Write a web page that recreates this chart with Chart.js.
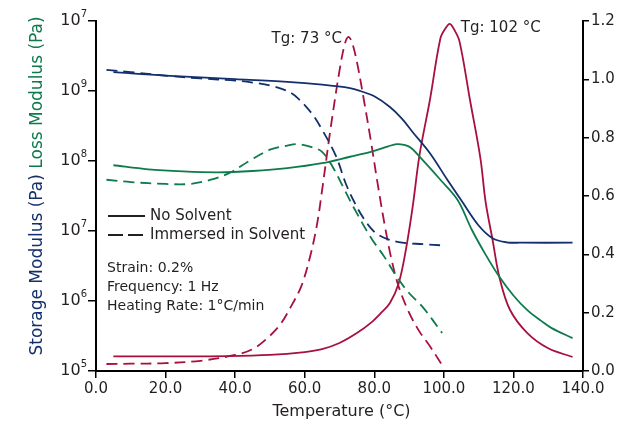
<!DOCTYPE html>
<html>
<head>
<meta charset="utf-8">
<script src="https://cdn.jsdelivr.net/npm/chart.js@4.4.1/dist/chart.umd.min.js"></script>
<style>
  html, body { margin: 0; padding: 0; background: #fff; }
  #wrap { width: 631px; height: 427px; }
</style>
</head>
<body>
<div id="wrap"><canvas id="grafico" width="631" height="427"></canvas></div>
<script>
// Temperatura (°C) e valores
const storageSolidT = [5, 20, 40, 55, 65, 73, 76, 80, 84.5, 88, 91, 96, 101, 105, 110, 114, 118, 122, 137];
const storageSolid = [1.86e9, 1.66e9, 1.48e9, 1.35e9, 1.23e9, 1.10e9, 1.0e9, 8.4e8, 5.9e8, 4.0e8, 2.6e8, 1.29e8, 5.4e7, 2.75e7, 1.2e7, 7.9e6, 6.9e6, 6.8e6, 6.8e6];

const storageDashT = [3, 10, 20, 30, 40, 45, 50, 55, 58, 62, 65, 69, 72, 75, 77, 79, 81, 84, 88, 94, 100];
const storageDash = [2.0e9, 1.86e9, 1.66e9, 1.51e9, 1.41e9, 1.32e9, 1.2e9, 1.0e9, 7.9e8, 4.8e8, 2.8e8, 1.17e8, 4.5e7, 2.2e7, 1.5e7, 1.1e7, 8.9e6, 7.6e6, 6.8e6, 6.5e6, 6.2e6];

const lossSolidT = [5, 15, 25, 35, 45, 55, 65, 73, 79, 84, 86.5, 88.5, 90.5, 94, 99, 104, 108, 112, 116, 120, 124, 128, 131, 137];
const lossSolid = [8.7e7, 7.6e7, 7.1e7, 6.9e7, 7.2e7, 7.9e7, 9.3e7, 1.15e8, 1.35e8, 1.62e8, 1.74e8, 1.7e8, 1.55e8, 1.02e8, 5.4e7, 2.75e7, 1.05e7, 4.6e6, 2.2e6, 1.2e6, 7.4e5, 5.2e5, 4.1e5, 2.95e5];

const lossDashT = [3, 10, 20, 27, 33, 38.5, 44, 50, 55, 58, 62, 65, 68, 71, 74, 79, 83, 86.5, 90, 94, 99.5];
const lossDash = [5.4e7, 5.0e7, 4.7e7, 4.7e7, 5.4e7, 6.8e7, 1.0e8, 1.45e8, 1.66e8, 1.74e8, 1.58e8, 1.35e8, 8.3e7, 4.3e7, 2.2e7, 8.1e6, 4.2e6, 2.2e6, 1.3e6, 8.1e5, 3.5e5];

const tanSolidT = [5, 20, 38, 50, 60, 65, 70, 75, 79, 82, 84.5, 87, 89, 91, 93, 96, 99, 100.5, 101.7, 103, 104.5, 107.5, 110.5, 112, 114, 116, 119, 124, 130, 137];
const tanSolid = [0.05, 0.05, 0.051, 0.055, 0.065, 0.075, 0.096, 0.13, 0.165, 0.2, 0.233, 0.3, 0.41, 0.56, 0.74, 0.93, 1.14, 1.175, 1.19, 1.17, 1.13, 0.93, 0.73, 0.58, 0.45, 0.32, 0.21, 0.13, 0.078, 0.048];

const tanDashT = [3, 10, 20, 30, 40, 45, 49, 53, 56, 59, 61.5, 63.5, 65, 67.3, 70, 71.5, 72.5, 73.5, 75, 77, 79, 81, 83, 85, 87, 90, 93, 96, 99.5];
const tanDash = [0.024, 0.025, 0.027, 0.035, 0.055, 0.075, 0.11, 0.16, 0.22, 0.29, 0.39, 0.5, 0.62, 0.82, 1.03, 1.12, 1.145, 1.13, 1.06, 0.93, 0.79, 0.64, 0.5, 0.38, 0.29, 0.2, 0.135, 0.085, 0.02];

// Rótulos dos eixos
const leftTickValues = [1e5, 1e6, 1e7, 1e8, 1e9, 1e10];
const leftTickExponents = ['5', '6', '7', '8', '9', '7'];
const tgLabels = [
  { texto: 'Tg: 73 °C', t: 73, tan: 1.138 },
  { texto: 'Tg: 102 °C', t: 102, tan: 1.176 }
];
const legendaItens = ['No Solvent', 'Immersed in Solvent'];
const condicoes = ['Strain: 0.2%', 'Frequency: 1 Hz', 'Heating Rate: 1°C/min'];

const corStorage = '#13306c';
const corLoss = '#0f7a4c';
const corTan = '#a8103e';
const corTexto = '#231f20';
const fonte = '"DejaVu Sans", sans-serif';
const tracejado = [11, 6];

function pontos(ts, vs) {
  return ts.map((t, i) => ({ x: t, y: vs[i] }));
}

function serie(ts, vs, cor, eixo, dash) {
  return {
    data: pontos(ts, vs),
    borderColor: cor,
    borderWidth: 1.8,
    borderDash: dash ? tracejado : [],
    pointRadius: 0,
    tension: 0.35,
    yAxisID: eixo,
    fill: false
  };
}

const textosPlugin = {
  id: 'textos',
  afterDraw(chart) {
    const ctx = chart.ctx;
    const area = chart.chartArea;
    const yL = chart.scales.yLeft;
    const yR = chart.scales.yRight;
    const xs = chart.scales.x;
    ctx.save();
    ctx.fillStyle = corTexto;

    // rótulos do eixo logarítmico (10 com expoente)
    yL.ticks.forEach((tick, i) => {
      const py = yL.getPixelForValue(tick.value);
      const exp = leftTickExponents[i];
      ctx.textAlign = 'right';
      ctx.textBaseline = 'middle';
      ctx.font = '10px ' + fonte;
      const w = ctx.measureText(exp).width;
      const xr = area.left - 9;
      ctx.fillText(exp, xr, py - 7);
      ctx.font = '16px ' + fonte;
      ctx.fillText('10', xr - w, py);
    });

    // título do eixo esquerdo em duas cores
    ctx.save();
    ctx.font = '17px ' + fonte;
    ctx.translate(38, 186);
    ctx.rotate(-Math.PI / 2);
    ctx.textAlign = 'left';
    ctx.textBaseline = 'middle';
    const p1 = 'Storage Modulus (Pa) ';
    const p2 = 'Loss Modulus (Pa)';
    const w1 = ctx.measureText(p1).width;
    const w2 = ctx.measureText(p2).width;
    const x0 = -(w1 + w2) / 2;
    ctx.fillStyle = corStorage;
    ctx.fillText(p1, x0, 0);
    ctx.fillStyle = corLoss;
    ctx.fillText(p2, x0 + w1, 0);
    ctx.restore();

    // título do eixo x
    ctx.font = '16px ' + fonte;
    ctx.textAlign = 'center';
    ctx.textBaseline = 'middle';
    ctx.fillText('Temperature (°C)', (area.left + area.right) / 2 + 2, 412);

    // rótulos Tg
    ctx.font = '15px ' + fonte;
    tgLabels.forEach((lab, i) => {
      const px = xs.getPixelForValue(lab.t);
      const py = yR.getPixelForValue(lab.tan);
      ctx.textAlign = i === 0 ? 'right' : 'left';
      ctx.fillText(lab.texto, i === 0 ? px - 8 : px + 10, py);
    });

    // legenda
    ctx.textAlign = 'left';
    ctx.strokeStyle = corTexto;
    ctx.lineWidth = 1.8;
    legendaItens.forEach((txt, i) => {
      const py = 216 + i * 19;
      ctx.setLineDash(i === 0 ? [] : [15, 5]);
      ctx.beginPath();
      ctx.moveTo(108, py);
      ctx.lineTo(145, py);
      ctx.stroke();
      ctx.fillText(txt, 150, py);
    });
    ctx.setLineDash([]);

    ctx.font = '14px ' + fonte;
    condicoes.forEach((txt, i) => {
      ctx.fillText(txt, 107, 268 + i * 19);
    });
    ctx.restore();
  }
};

const ctx = document.getElementById('grafico').getContext('2d');
const grafico = new Chart(ctx, {
  type: 'line',
  data: {
    datasets: [
      serie(storageSolidT, storageSolid, corStorage, 'yLeft', false),
      serie(storageDashT, storageDash, corStorage, 'yLeft', true),
      serie(lossSolidT, lossSolid, corLoss, 'yLeft', false),
      serie(lossDashT, lossDash, corLoss, 'yLeft', true),
      serie(tanSolidT, tanSolid, corTan, 'yRight', false),
      serie(tanDashT, tanDash, corTan, 'yRight', true)
    ]
  },
  options: {
    responsive: false,
    animation: false,
    layout: { padding: { top: 21, left: 0, right: 0, bottom: 0 } },
    plugins: {
      legend: { display: false },
      tooltip: { enabled: false }
    },
    scales: {
      x: {
        type: 'linear',
        min: 0,
        max: 140,
        afterFit: (s) => { s.height = 56; },
        border: { display: true, color: '#000', width: 2 },
        grid: { drawOnChartArea: false, drawTicks: true, tickLength: 7, tickColor: '#000', lineWidth: 1.5 },
        ticks: {
          stepSize: 20,
          padding: 2,
          color: corTexto,
          font: { family: fonte, size: 15 },
          maxRotation: 0,
          callback: (v) => v.toFixed(1)
        }
      },
      yLeft: {
        type: 'logarithmic',
        position: 'left',
        min: 1e5,
        max: 1e10,
        afterBuildTicks: (s) => { s.ticks = leftTickValues.map(v => ({ value: v })); },
        afterFit: (s) => { s.width = 96; },
        border: { display: true, color: '#000', width: 2 },
        grid: { drawOnChartArea: false, drawTicks: true, tickLength: 8, tickColor: '#000', lineWidth: 1.5 },
        ticks: { display: false }
      },
      yRight: {
        type: 'linear',
        position: 'right',
        min: 0,
        max: 1.2,
        afterFit: (s) => { s.width = 48; },
        border: { display: true, color: '#000', width: 2 },
        grid: { drawOnChartArea: false, drawTicks: true, tickLength: 6, tickColor: '#000', lineWidth: 1.5 },
        ticks: {
          stepSize: 0.2,
          padding: 2,
          color: corTexto,
          font: { family: fonte, size: 15 },
          callback: (v) => v.toFixed(1)
        }
      }
    }
  },
  plugins: [textosPlugin]
});
</script>
</body>
</html>
